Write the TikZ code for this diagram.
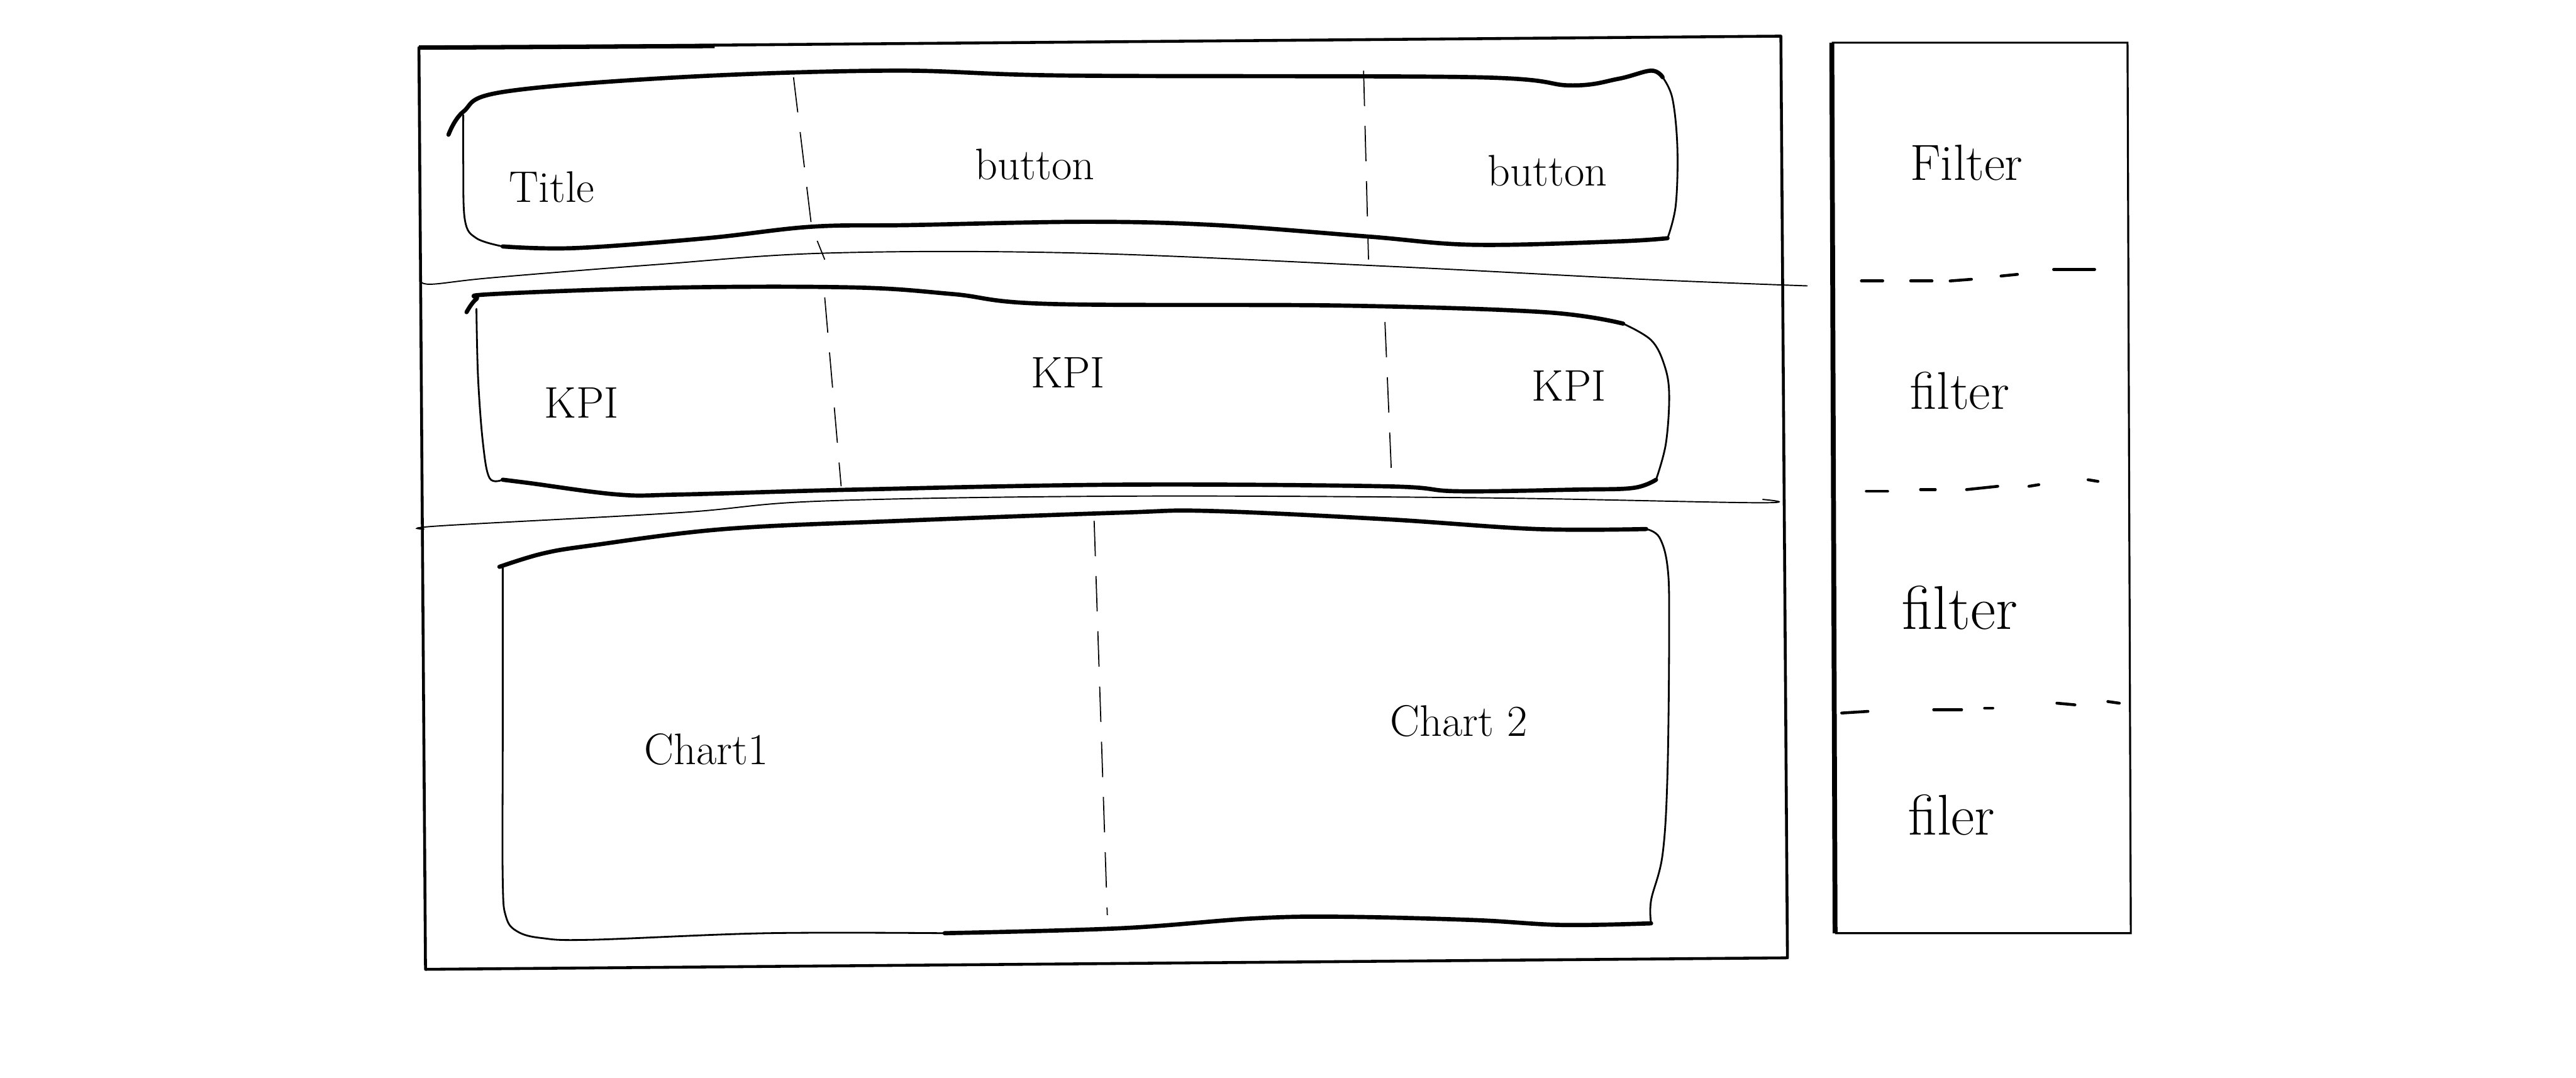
\documentclass[tikz,border=0pt]{standalone}
\begin{document}
\begin{tikzpicture}[
  x=0.2612mm,y=-0.2612mm,
  frame/.style={line width=1.3pt,line join=round},
  pen/.style={line width=1.9pt,line cap=round,line join=round},
  thin/.style={line width=0.8pt,line cap=round,line join=round},
  hair/.style={line width=0.55pt,line cap=round},
  divider/.style={line width=0.5pt,dash pattern=on 16pt off 9pt},
  tick/.style={line width=1.3pt,line cap=round},
  label/.style={font=\fontsize{20}{24}\selectfont,inner sep=0pt}]
  \useasboundingbox (0,0) rectangle (1568,656);
  % page and filter panel
  \draw[frame] (255,29) -- (1084,22) -- (1088,583) -- (259,590) -- cycle;
  \draw[line width=2pt] (255,29) -- (435,28);
  \draw[line width=0.9pt] (1115,26) -- (1295,26) -- (1297,568) -- (1117,568);
  \draw[line width=2.2pt] (1115,26) -- (1117,568);
  % header strip
  \draw[pen] plot[smooth,tension=0.6] coordinates {(273,82) (282,68) (306,56) (414,47)
    (543,43) (650,46) (897,47) (956,52) (985,48) (1005,43) (1012,47)};
  \draw[thin] plot[smooth,tension=0.6] coordinates {(1012,47) (1018,60) (1021,90)
    (1020,125) (1015,145)};
  \draw[pen] plot[smooth,tension=0.6] coordinates {(1015,145) (983,147) (897,149)
    (833,144) (740,137) (661,135) (554,137) (494,138) (430,145) (350,151) (306,150)};
  \draw[thin] plot[smooth,tension=0.6] coordinates {(306,150) (290,145) (283,134)
    (282,100) (282,70)};
  \draw[divider] (483,47) -- (494,138) -- (502,158);
  \draw[divider] (830,43) -- (833,158);
  \draw[hair] plot[smooth,tension=0.6] coordinates {(256,170) (262,173) (300,169)
    (400,161) (505,154) (655,154) (843,162) (1000,170) (1100,174)};
  % kpi strip
  \draw[pen] plot[smooth,tension=0.6] coordinates {(284,190) (290,182) (300,179)
    (414,175) (521,175) (580,179) (639,185) (817,186) (940,190) (988,197)};
  \draw[thin] plot[smooth,tension=0.6] coordinates {(988,197) (1005,207) (1013,222)
    (1016,240) (1014,270) (1008,292)};
  \draw[pen] plot[smooth,tension=0.6] coordinates {(1008,292) (994,297) (960,298)
    (887,299) (843,296) (682,295) (521,298) (414,301) (376,301) (322,294) (306,292)};
  \draw[thin] plot[smooth,tension=0.6] coordinates {(306,292) (298,291) (294,270)
    (291,230) (290,188)};
  \draw[divider] (502,181) -- (512,296);
  \draw[divider] (843,196) -- (847,289);
  \draw[hair] plot[smooth,tension=0.6] coordinates {(258,322) (269,320) (414,312)
    (500,305) (682,302) (900,303) (1069,306) (1073,304)};
  % chart strip
  \draw[pen] plot[smooth,tension=0.6] coordinates {(304,345) (330,337) (360,332)
    (441,322) (548,317) (683,312) (736,311) (843,316) (935,322) (1002,322)};
  \draw[thin] plot[smooth,tension=0.6] coordinates {(1002,322) (1010,327) (1015,345)
    (1016,380) (1015,470) (1012,520) (1005,548) (1005,562)};
  \draw[pen] plot[smooth,tension=0.6] coordinates {(1005,562) (951,563) (897,560)
    (817,558) (763,559) (682,565) (575,568)};
  \draw[thin] plot[smooth,tension=0.6] coordinates {(575,568) (467,568) (360,572)
    (330,571) (315,567) (308,558) (306,535) (306,450) (306,345)};
  \draw[divider] (666,317) -- (674,557);
  % filter gaps
  \foreach \a/\ya/\b/\yb in {1133/171/1146/171, 1163/171/1176/171, 1187/171/1200/170,
    1218/168/1228/167, 1250/164/1275/164,
    1136/299/1149/299, 1169/298/1178/298, 1197/298/1216/296, 1235/296/1241/295,
    1271/292/1277/293,
    1121/434/1137/433, 1177/432/1194/432, 1208/431/1213/431, 1252/428/1263/429,
    1283/427/1290/428}
    \draw[tick] (\a,\ya) -- (\b,\yb);
  % labels
  \node[label] (title) at (336,114) {Title};
  \node[label] (btn1) at (630,100) {button};
  \node[label] (btn2) at (942,104) {button};
  \node[label] (kpi1) at (354,245) {KPI};
  \node[label] (kpi2) at (650,227) {KPI};
  \node[label] (kpi3) at (955,235) {KPI};
  \node[label] (chart1) at (430,456) {Chart1};
  \node[label] (chart2) at (888,439) {Chart 2};
  \node[label,font=\fontsize{23}{27}\selectfont] (filt1) at (1197,99) {Filter};
  \node[label,font=\fontsize{24}{28}\selectfont] (filt2) at (1193,238) {filter};
  \node[label,font=\fontsize{28}{32}\selectfont] (filt3) at (1193,370) {filter};
  \node[label,font=\fontsize{26}{30}\selectfont] (filt4) at (1188,496) {filer};
\end{tikzpicture}
\end{document}
